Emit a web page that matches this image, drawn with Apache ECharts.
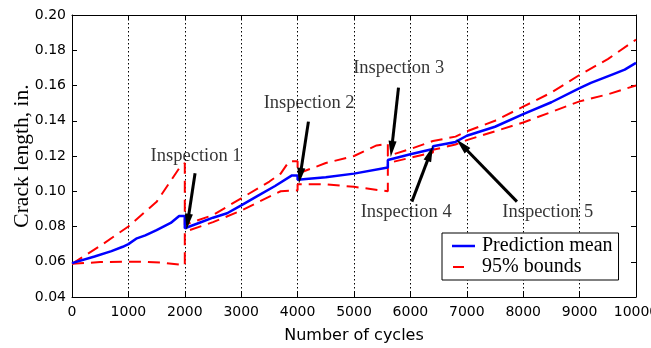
<!DOCTYPE html>
<html>
<head>
<meta charset="utf-8">
<script src="https://cdn.jsdelivr.net/npm/echarts@6/dist/echarts.min.js"></script>
<style>
  html, body { margin: 0; padding: 0; background: #fff; }
  #chart { width: 651px; height: 348px; }
</style>
</head>
<body>
<div id="chart"></div>
<script>
// prediction mean (repeated cycles = jump after an inspection)
const meanCycles = [0, 400, 700, 900, 1000, 1150, 1300, 1500, 1750, 1900, 2000, 2000, 2250, 2500, 2750, 3000, 3300, 3600, 3900, 4000, 4000, 4500, 5000, 5600, 5600, 6000, 6400, 6400, 6800, 6800, 7000, 7500, 8000, 8500, 9000, 9200, 9600, 9800, 10000];
const meanValues = [0.0592, 0.063, 0.066, 0.0685, 0.070, 0.0733, 0.075, 0.078, 0.082, 0.086, 0.086, 0.079, 0.082, 0.085, 0.0875, 0.092, 0.0975, 0.103, 0.109, 0.109, 0.1065, 0.108, 0.110, 0.1135, 0.1177, 0.121, 0.124, 0.1255, 0.128, 0.1285, 0.1315, 0.1366, 0.1438, 0.1505, 0.1585, 0.1615, 0.1665, 0.169, 0.1728];

// 95% bounds
const upperCycles = [0, 500, 1000, 1500, 1900, 2000, 2000, 2500, 3000, 3500, 3700, 3850, 4000, 4000, 4500, 5000, 5400, 5600, 5600, 6000, 6400, 6400, 6800, 6800, 7000, 7500, 8000, 8500, 9000, 9500, 10000];
const upperValues = [0.0588, 0.069, 0.080, 0.094, 0.113, 0.116, 0.081, 0.0865, 0.096, 0.1055, 0.110, 0.117, 0.117, 0.110, 0.116, 0.120, 0.126, 0.127, 0.120, 0.124, 0.1285, 0.1275, 0.131, 0.130, 0.134, 0.140, 0.148, 0.156, 0.166, 0.175, 0.186];
const lowerCycles = [0, 500, 1000, 1300, 1600, 2000, 2000, 2500, 3000, 3500, 3700, 4000, 4000, 4500, 5000, 5600, 5600, 6000, 6400, 6400, 6800, 6800, 7000, 7500, 8000, 8500, 9000, 9500, 10000];
const lowerValues = [0.0588, 0.0598, 0.060, 0.060, 0.0595, 0.058, 0.077, 0.0825, 0.089, 0.097, 0.100, 0.1005, 0.104, 0.104, 0.1025, 0.100, 0.116, 0.119, 0.122, 0.1235, 0.1265, 0.127, 0.129, 0.134, 0.139, 0.145, 0.151, 0.155, 0.160];

// inspection annotations: label position, arrow tail and tip (data coords)
const inspNames = ['Inspection 1', 'Inspection 2', 'Inspection 3', 'Inspection 4', 'Inspection 5'];
const inspLabelAt = [[2200, 0.1200], [4204, 0.1502], [5792, 0.1701], [5925, 0.0884], [8435, 0.0884]];
const arrowTail = [[2182, 0.1102], [4192, 0.1395], [5789, 0.1588], [6026, 0.0941], [7889, 0.0941]];
const arrowTip = [[2052, 0.0827], [4045, 0.1087], [5668, 0.1240], [6351, 0.1215], [6913, 0.1262]];

const pairs = (xs, ys) => xs.map((x, i) => [x, ys[i]]);

const chart = echarts.init(document.getElementById('chart'));

const tickFont = { fontFamily: 'DejaVu Sans', fontSize: 14, color: '#000' };
const serif = 'Liberation Serif';

const option = {
    animation: false,
    grid: { left: 72, right: 15, top: 15, bottom: 51, outerBoundsMode: 'none' },
    xAxis: [
        {
            type: 'value',
            min: 0,
            max: 10000,
            interval: 1000,
            name: 'Number of cycles',
            nameLocation: 'middle',
            nameGap: 31,
            nameMoveOverlap: false,
            nameTextStyle: { fontFamily: 'DejaVu Sans', fontSize: 16, color: '#000' },
            axisLine: { onZero: false, lineStyle: { color: '#000', width: 1 } },
            axisTick: { inside: true, length: 5, lineStyle: { color: '#000' } },
            axisLabel: Object.assign({ margin: 8, formatter: v => String(v) }, tickFont),
            splitLine: { show: true, lineStyle: { color: '#000', width: 1, type: [1.5, 2.5] } }
        },
        {
            type: 'value',
            position: 'top',
            min: 0,
            max: 10000,
            interval: 1000,
            axisLine: { onZero: false, lineStyle: { color: '#000', width: 1 } },
            axisTick: { inside: true, length: 5, lineStyle: { color: '#000' } },
            axisLabel: { show: false },
            splitLine: { show: false }
        }
    ],
    yAxis: [
        {
            type: 'value',
            min: 0.04,
            max: 0.20,
            interval: 0.02,
            name: 'Crack length, in.',
            nameLocation: 'middle',
            nameGap: 39,
            nameMoveOverlap: false,
            nameTextStyle: { fontFamily: serif, fontSize: 21.5, color: '#000' },
            axisLine: { show: true, onZero: false, lineStyle: { color: '#000', width: 1 } },
            axisTick: { show: true, inside: true, length: 5, lineStyle: { color: '#000' } },
            axisLabel: Object.assign({ margin: 6, formatter: v => v.toFixed(2) }, tickFont),
            splitLine: { show: false }
        },
        {
            type: 'value',
            position: 'right',
            min: 0.04,
            max: 0.20,
            interval: 0.02,
            axisLine: { show: true, onZero: false, lineStyle: { color: '#000', width: 1 } },
            axisTick: { show: true, inside: true, length: 5, lineStyle: { color: '#000' } },
            axisLabel: { show: false },
            splitLine: { show: false }
        }
    ],
    legend: {
        orient: 'vertical',
        left: 442,
        top: 233,
        padding: [3, 6, 3, 10],
        itemGap: 1,
        itemWidth: 23,
        itemHeight: 14,
        backgroundColor: '#fff',
        borderColor: '#000',
        borderWidth: 1,
        borderRadius: 0,
        data: [
            { name: 'Prediction mean', icon: 'path://M0,0M23,14M0,5.75H23V8.25H0Z', itemStyle: { borderWidth: 0 } },
            { name: '95% bounds', icon: 'path://M0,0M23,14M1,6H12V8H1Z', itemStyle: { borderWidth: 0 } }
        ],
        textStyle: { fontFamily: serif, fontSize: 20, color: '#000', lineHeight: 20, padding: [0, 0, 0, 2] }
    },
    series: [
        {
            name: '95% bounds',
            type: 'line',
            data: pairs(upperCycles, upperValues),
            symbol: 'none',
            lineStyle: { color: '#ff0000', width: 2, type: [12, 7] },
            itemStyle: { color: '#ff0000' },
            z: 3
        },
        {
            name: '95% bounds',
            type: 'line',
            data: pairs(lowerCycles, lowerValues),
            symbol: 'none',
            lineStyle: { color: '#ff0000', width: 2, type: [12, 7] },
            itemStyle: { color: '#ff0000' },
            z: 3
        },
        {
            name: 'Prediction mean',
            type: 'line',
            data: pairs(meanCycles, meanValues),
            symbol: 'none',
            lineStyle: { color: '#0000ff', width: 2.5 },
            itemStyle: { color: '#0000ff' },
            z: 4
        },
        {
            name: 'arrows',
            type: 'lines',
            coordinateSystem: 'cartesian2d',
            silent: true,
            symbol: ['none', 'triangle'],
            symbolSize: [1, [8, 16]],
            lineStyle: { color: '#000', width: 3, opacity: 1 },
            data: arrowTail.map((t, i) => ({ coords: [t, arrowTip[i]] })),
            z: 5
        },
        {
            name: 'labels',
            type: 'scatter',
            silent: true,
            symbolSize: 0,
            data: inspNames.map((n, i) => ({ name: n, value: inspLabelAt[i] })),
            label: {
                show: true,
                position: 'inside',
                formatter: '{b}',
                fontFamily: serif,
                fontSize: 18.5,
                color: '#000'
            },
            z: 6
        }
    ]
};

chart.setOption(option);
</script>
</body>
</html>
